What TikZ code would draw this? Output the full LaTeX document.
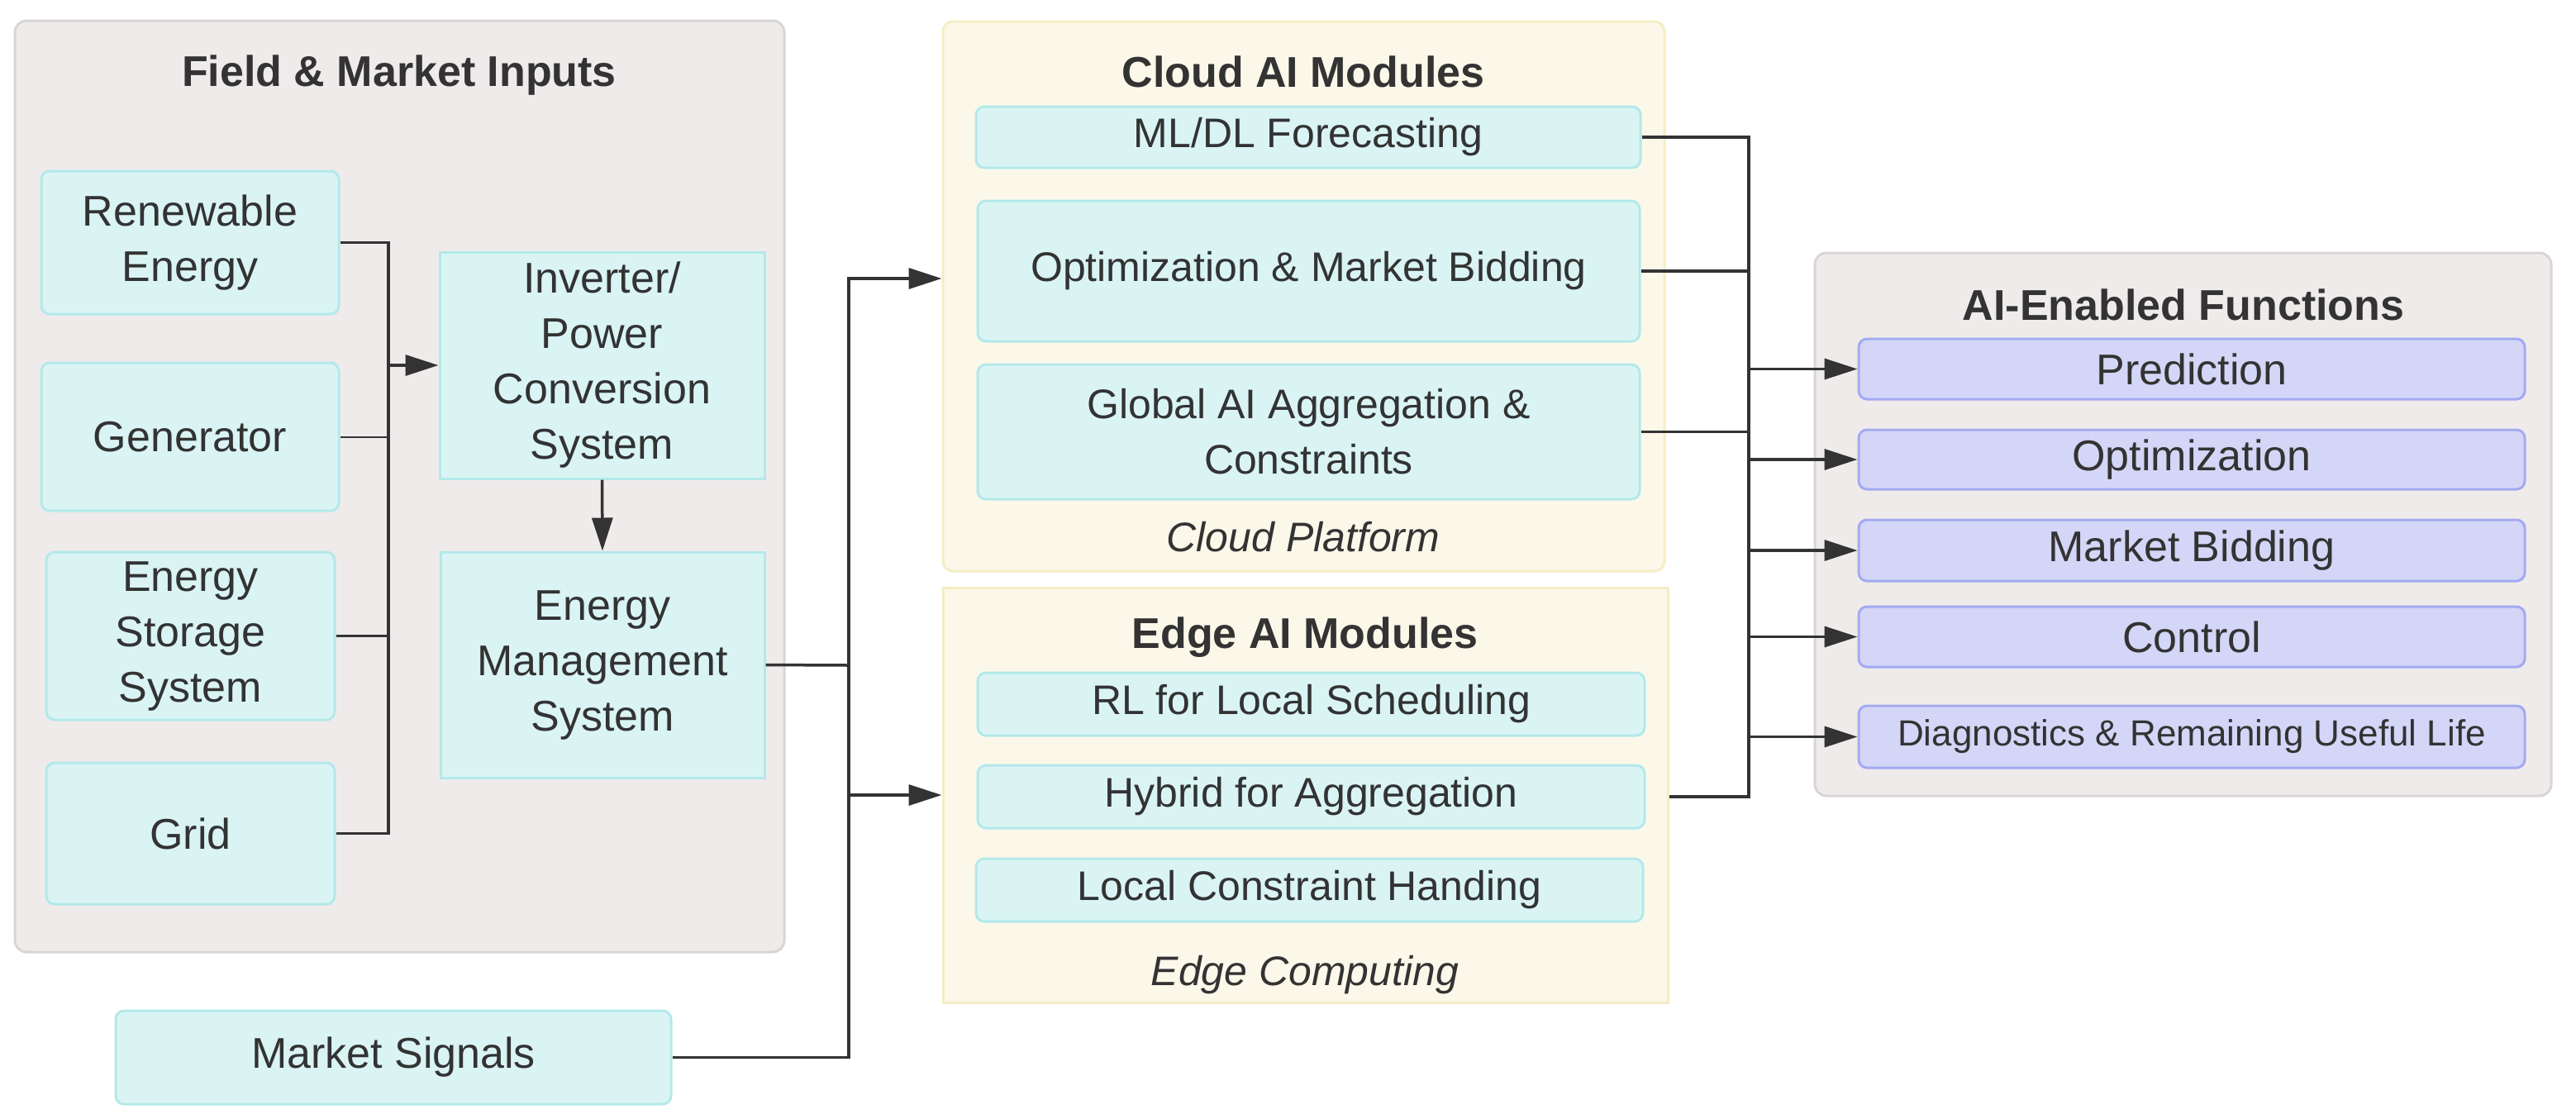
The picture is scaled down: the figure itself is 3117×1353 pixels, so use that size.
\documentclass[tikz,border=0pt]{standalone}
\usepackage{fontspec}
\setmainfont{Liberation Sans}
\usetikzlibrary{arrows.meta}
\definecolor{txt}{HTML}{333333}
\definecolor{grpfill}{HTML}{EFEBEB}
\definecolor{grpdraw}{HTML}{D9D5D5}
\definecolor{ylwfill}{HTML}{FBF8EA}
\definecolor{ylwdraw}{HTML}{F5EDC4}
\definecolor{cyfill}{HTML}{DAF4F4}
\definecolor{cydraw}{HTML}{B3E9EA}
\definecolor{pufill}{HTML}{D4D6F7}
\definecolor{pudraw}{HTML}{A3AAF2}
\tikzset{
 box/.style={draw=cydraw, fill=cyfill, line width=3pt, rounded corners=10pt, align=center, text=txt, font=\fontsize{52}{67}\selectfont, inner sep=0pt},
 mbox/.style={box, font=\fontsize{50}{67}\selectfont},
 sqbox/.style={box, rounded corners=0pt},
 fnbox/.style={draw=pudraw, fill=pufill, line width=3pt, rounded corners=10pt, text=txt, font=\fontsize{52}{62}\selectfont, inner sep=0pt, minimum width=806pt},
 grp/.style={draw=grpdraw, fill=grpfill, line width=3pt, rounded corners=14pt, inner sep=0pt},
 ygrp/.style={draw=ylwdraw, fill=ylwfill, line width=3pt, inner sep=0pt},
 ttl/.style={text=txt, font=\bfseries\fontsize{52}{62}\selectfont},
 subttl/.style={text=txt, font=\itshape\fontsize{50}{60}\selectfont},
 link/.style={draw=txt, line width=3.5pt},
 arr/.style={link, -{Triangle[length=40pt,width=25pt]}},
}
\begin{document}
\begin{tikzpicture}[x=1pt,y=-1pt]
\useasboundingbox (0,0) rectangle (3117,1353);
% groups
\node[grp, minimum width=931pt, minimum height=1127pt] (fieldgrp) at (483.5,588.5) {};
\node[ttl] (fieldttl) at (483,91) {Field \& Market Inputs};
\node[ygrp, rounded corners=12pt, minimum width=873pt, minimum height=665pt] (cloudgrp) at (1577.5,358.5) {};
\node[ttl] (cloudttl) at (1577,87) {Cloud AI Modules};
\node[subttl] (cloudsub) at (1577,650) {Cloud Platform};
\node[ygrp, minimum width=877pt, minimum height=502pt] (edgegrp) at (1579.5,962) {};
\node[ttl] (edgettl) at (1579,771) {Edge AI Modules};
\node[subttl] (edgesub) at (1579,1180) {Edge Computing};
\node[grp, minimum width=891pt, minimum height=657pt] (aigrp) at (2641.5,634.5) {};
\node[ttl] (aittl) at (2642,369) {AI-Enabled Functions};
% field nodes
\node[box, minimum width=360pt, minimum height=173pt] (ren) at (230,293.5) {Renewable\\Energy};
\node[box, minimum width=360pt, minimum height=179pt] (gen) at (230,528.5) {Generator};
\node[box, minimum width=349pt, minimum height=203pt] (ess) at (230.5,769.5) {Energy\\Storage\\System};
\node[box, minimum width=349pt, minimum height=171pt] (grid) at (230.5,1008.5) {Grid};
\node[sqbox, minimum width=393pt, minimum height=274pt] (inv) at (728.5,442) {Inverter/\\Power\\Conversion\\System};
\node[sqbox, minimum width=392pt, minimum height=273pt] (ems) at (729,804.5) {Energy\\Management\\System};
\node[box, minimum width=672pt, minimum height=113pt] (mkt) at (476,1279.5) {Market Signals};
% cloud nodes
\node[mbox, minimum width=804pt, minimum height=74pt] (ml) at (1583,166) {ML/DL Forecasting};
\node[mbox, minimum width=801pt, minimum height=170pt] (opt) at (1583.5,328) {Optimization \& Market Bidding};
\node[mbox, minimum width=801pt, minimum height=163pt] (glob) at (1583.5,522.5) {Global AI Aggregation \&\\Constraints};
% edge nodes
\node[mbox, minimum width=807pt, minimum height=76pt] (rl) at (1586.5,852) {RL for Local Scheduling};
\node[mbox, minimum width=807pt, minimum height=76pt] (hyb) at (1586.5,964) {Hybrid for Aggregation};
\node[mbox, minimum width=807pt, minimum height=76pt] (lch) at (1584.5,1077) {Local Constraint Handing};
% AI functions
\node[fnbox, minimum height=73pt] (pred) at (2652,446.5) {Prediction};
\node[fnbox, minimum height=72pt] (optz) at (2652,556) {Optimization};
\node[fnbox, minimum height=74pt] (mb) at (2652,666) {Market Bidding};
\node[fnbox, minimum height=73pt] (ctrl) at (2652,770.5) {Control};
\node[fnbox, minimum height=75pt, font=\fontsize{44}{52}\selectfont] (diag) at (2652,891.5) {Diagnostics \& Remaining Useful Life};
% connectors left
\coordinate (busL) at (470,442);
\draw[link] (ren.east) -| (busL);
\draw[link, line width=2pt] (gen.east) -- (gen.east -| busL);
\draw[link] (ess.east) -| (busL);
\draw[link] (grid.east) -| (busL);
\draw[arr] (busL) -- (inv.west);
\draw[arr] (inv.south) -- (ems.north);
% connectors middle
\coordinate (busM) at (1027,805);
\draw[link] (ems.east) -- (busM);
\draw[arr] (busM) |- ([yshift=21.5pt]cloudgrp.west);
\draw[arr] (busM) |- (edgegrp.west);
\draw[link] (mkt.east) -| (busM);
% connectors right
\coordinate (busR) at (2116,446.5);
\draw[link] (ml.east) -| (busR);
\draw[link] (opt.east) -| (busR);
\draw[link] (glob.east) -| (busR);
\draw[link] (hyb.east -| edgegrp.east) -| (busR);
\draw[arr] (busR) -- (pred.west);
\draw[arr] (busR |- optz) -- (optz.west);
\draw[arr] (busR |- mb) -- (mb.west);
\draw[arr] (busR |- ctrl) -- (ctrl.west);
\draw[arr] (busR |- diag) -- (diag.west);
\end{tikzpicture}
\end{document}
